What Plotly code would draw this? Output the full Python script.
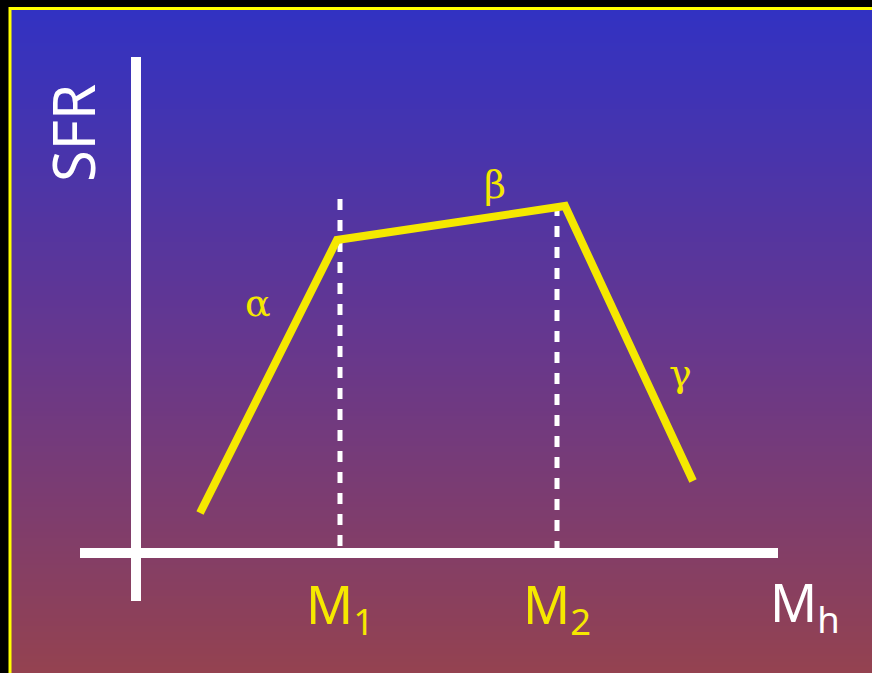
import plotly.graph_objects as go
import numpy as np

# broken power-law SFR vs halo mass (schematic, arbitrary log units)
log_mh = [0.64, 2.01, 4.29, 5.57]
log_sfr = [0.40, 3.13, 3.47, 0.72]
m_breaks = [2.04, 4.21]
break_tops = [3.54, 3.48]
break_labels = ["M<sub>1</sub>", "M<sub>2</sub>"]
slope_labels = ["α", "β", "γ"]
slope_pos = [(1.22, 2.5), (3.59, 3.68), (5.44, 1.80)]

# px -> data: x = (px-136)/100, y = (553-py)/100
xr = [-1.36, 7.36]
yr = [-1.20, 5.53]

fig = go.Figure()

# gradient background
n = 240
ye = np.linspace(5.43, -1.20, n + 1)
z = [[i / (n - 1)] for i in range(n)]
fig.add_trace(go.Heatmap(
    x=[-1.25, 7.36], y=ye, z=z, zmin=0, zmax=1,
    colorscale=[[0, "rgb(50,50,194)"], [0.5, "rgb(102,55,142)"], [1, "rgb(148,66,80)"]],
    showscale=False, hoverinfo="skip",
))

# dashed break lines
for m, top in zip(m_breaks, break_tops):
    fig.add_trace(go.Scatter(
        x=[m, m], y=[top, 0], mode="lines",
        line=dict(color="white", width=5, dash="11px,10px"),
        hoverinfo="skip", showlegend=False,
    ))

# the SFR relation
fig.add_trace(go.Scatter(
    x=log_mh, y=log_sfr, mode="lines",
    line=dict(color="#f5e800", width=8),
    hoverinfo="skip", showlegend=False,
))

shapes = [
    dict(type="line", xref="x", yref="y", x0=0, x1=0, y0=-0.48, y1=4.96,
         line=dict(color="white", width=10)),
    dict(type="line", xref="x", yref="y", x0=-0.56, x1=6.42, y0=0, y1=0,
         line=dict(color="white", width=10)),
    # yellow frame
    dict(type="line", xref="paper", yref="paper", x0=10 / 872, x1=10 / 872, y0=0, y1=1 - 7 / 673,
         line=dict(color="#ffff00", width=3)),
    dict(type="line", xref="paper", yref="paper", x0=9 / 872, x1=1, y0=1 - 8.5 / 673, y1=1 - 8.5 / 673,
         line=dict(color="#ffff00", width=3)),
]

ann = []
for lab, (ax, ay) in zip(slope_labels, slope_pos):
    ann.append(dict(x=ax, y=ay, text=lab, showarrow=False,
                    font=dict(family="DejaVu Serif, Liberation Serif, serif", size=38, color="#f5e800")))
for m, lab in zip(m_breaks, break_labels):
    ann.append(dict(x=m, y=-0.54, text=lab, showarrow=False,
                    font=dict(family="Noto Sans", size=52, color="#f5e800")))
ann.append(dict(x=6.69, y=-0.52, text="M<sub>h</sub>", showarrow=False,
                font=dict(family="Noto Sans", size=52, color="white")))
ann.append(dict(x=-0.64, y=4.2, text="SFR", showarrow=False, textangle=-90,
                font=dict(family="Noto Sans", size=58, color="white")))

fig.update_layout(
    width=872, height=673,
    margin=dict(l=0, r=0, t=0, b=0),
    paper_bgcolor="black", plot_bgcolor="black",
    xaxis=dict(range=xr, visible=False, fixedrange=True),
    yaxis=dict(range=yr, visible=False, fixedrange=True),
    shapes=shapes, annotations=ann, showlegend=False,
)

fig.write_html(
    "out.html",
    config={"displayModeBar": False},
    post_script="document.body.style.margin='0';document.body.style.overflow='hidden';",
)
